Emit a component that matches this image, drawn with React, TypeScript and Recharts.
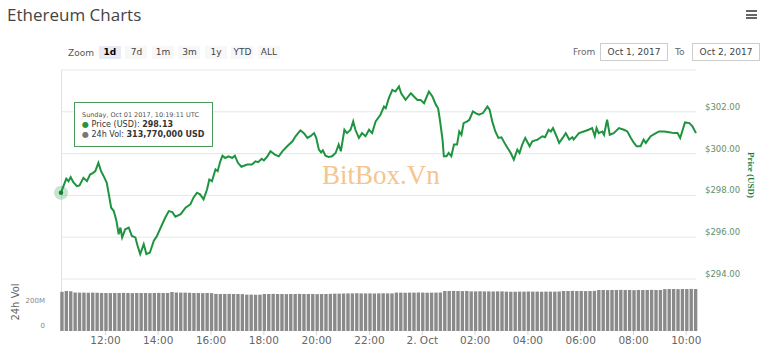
import React from 'react';
import { LineChart, Line, BarChart, Bar, XAxis, YAxis, CartesianGrid, Tooltip } from 'recharts';

// minutes since Oct 1 2017 00:00 UTC
const priceTimes = [
  619, 631, 636, 641, 647, 655, 661, 670, 678, 685, 692, 697, 704, 710, 716, 723, 727, 733, 739, 745,
  750, 754, 758, 765, 773, 780, 788, 793, 799, 807, 813, 821, 830, 837, 849, 856, 864, 872, 879, 891, 902,
  913, 920, 928, 935, 943, 951, 956, 962, 970, 975, 981, 986, 992, 1000, 1008, 1014, 1021, 1029, 1042,
  1053, 1061, 1067, 1075, 1080, 1088, 1095, 1105, 1114, 1122, 1133, 1145, 1152, 1163, 1171, 1179, 1186, 1194,
  1199, 1205, 1210, 1214, 1220, 1227, 1235, 1243, 1250, 1255, 1263, 1269, 1277, 1283, 1288, 1296, 1303, 1311,
  1319, 1326, 1334, 1345, 1353, 1357, 1364, 1372, 1379, 1387, 1392, 1402, 1414, 1421, 1429, 1436, 1444, 1455,
  1463, 1471, 1476, 1480, 1486, 1489,
  1495, 1500, 1506, 1512, 1519, 1524, 1529, 1534, 1542, 1547, 1555, 1561, 1569, 1578, 1588, 1593, 1599, 1606,
  1613, 1620, 1629, 1641, 1648, 1656, 1661, 1667, 1674, 1684, 1690, 1702, 1713, 1719, 1727, 1732, 1737, 1745,
  1751, 1759, 1766, 1774, 1781,
  1784, 1796, 1807, 1818, 1826, 1832, 1836, 1841, 1849, 1853, 1860, 1866, 1875, 1887, 1898, 1906, 1914, 1921,
  1927, 1936, 1943, 1948, 1959, 1971, 1978, 1990, 2001, 2012, 2020, 2026, 2037, 2047, 2054, 2062,
];

const prices = [
  298.13, 298.8, 298.68, 298.87, 298.63, 298.44, 298.48, 298.84, 298.68, 299.0, 299.08, 299.16, 299.56, 299.16,
  298.92, 298.6, 298.13, 297.41, 297.25, 296.78, 296.14, 296.46, 295.99, 296.38, 296.46, 296.06, 295.99, 295.59,
  295.19, 295.67, 295.19, 295.27, 295.83, 296.06, 296.62, 296.94, 297.25, 297.2, 296.98, 297.1, 297.41,
  297.57, 297.89, 298.13, 298.05, 297.81, 298.29, 298.76, 298.68, 299.24, 299.16, 299.63, 299.9, 299.79, 299.87,
  299.79, 299.9, 299.56, 299.37, 299.48, 299.48, 299.63, 299.59, 299.75, 299.67, 299.87, 300.11, 299.95, 299.87,
  300.11, 300.35, 300.59, 300.83, 301.11, 300.98, 300.75, 300.83, 300.98,
  300.75, 300.19, 300.06, 300.16, 299.9, 299.84, 299.87, 300.03, 300.43, 300.11, 301.14, 300.98, 301.14, 301.54,
  301.14, 300.75, 300.98, 300.83, 301.14, 300.98, 301.54, 301.86, 302.25, 302.17, 302.65, 303.05, 302.97, 303.21,
  302.89, 302.57, 302.89, 302.73, 302.57, 302.57, 302.41, 302.97, 302.73, 302.33, 302.17, 301.62, 300.67, 299.87,
  299.87, 300.03, 299.87, 300.43, 300.43, 301.06, 300.9, 301.46, 301.54, 301.62, 302.02, 301.94, 301.86, 301.94,
  302.25, 302.1, 301.54, 301.06, 300.75, 300.78, 300.43, 300.03, 299.71, 300.19, 300.03, 300.43, 300.75, 300.35,
  300.59, 300.67, 300.83, 300.78, 301.14, 301.06, 301.22, 300.83, 300.51, 300.75, 300.98, 300.67, 300.78,
  300.67, 300.98, 301.06, 301.14, 301.22, 300.83, 301.22, 300.98, 301.06, 300.9, 301.62, 300.9, 300.98, 301.22,
  301.14, 301.06, 300.75, 300.51, 300.35, 300.35, 300.67, 300.51, 300.83, 300.98, 301.06, 301.06, 301.02, 300.98,
  300.98, 300.75, 301.49, 301.46, 301.3, 300.98,
];

// 24h volume in millions USD, one bar every 10 minutes from 10:20
const volumeStart = 620;
const volumeStep = 10;
const volumes = [
  313.77, 320, 318,
  308, 307, 307, 306, 307, 306,
  304, 304, 303, 304, 304, 305, 304, 303, 304, 304, 304, 303, 304, 305, 304, 304,
  312,
  308, 307, 307, 306,
  304, 304, 303, 304, 303,
  297, 296, 296, 297, 296, 296, 295,
  291, 291, 290, 291,
  296, 296, 297, 296, 296, 295, 296, 296, 297, 296, 296, 296, 295, 296, 296, 297,
  299, 299, 300,
  301, 301, 302, 301, 301, 301, 300, 301, 302, 301, 301,
  307, 307, 306, 307, 307, 308, 307, 306, 307, 307, 308,
  320, 320, 321, 320, 319, 320,
  317, 317, 318, 317, 317, 316, 317, 317,
  315, 315, 314, 315, 315, 316, 315, 315, 314, 315, 315, 315, 316,
  320, 320, 321, 320, 320, 319, 320, 321,
  328, 328, 327, 328, 328, 329, 328, 328, 327, 328, 328, 328, 329, 328, 328,
  335, 336, 336, 335, 336, 336, 337, 336,
];

const priceTicks = [294, 296, 298, 300, 302, 304];
const priceLabelMax = 302;
const volumeTicks = [0, 200];
const timeTicks = [720, 840, 960, 1080, 1200, 1320, 1440, 1560, 1680, 1800, 1920, 2040];
const timeDomain = [619, 2062];
const zoomButtons = ['1d', '7d', '1m', '3m', '1y', 'YTD', 'ALL'];
const tooltipHeader = 'Sunday, Oct 01 2017, 10:19:11 UTC';
const fromDate = 'Oct 1, 2017';
const toDate = 'Oct 2, 2017';

const priceRows = priceTimes.map((t, i) => ({ t, price: prices[i] }));
const volumeRows = volumes.map((vol, i) => ({ t: volumeStart + i * volumeStep, vol }));

const GREEN = '#1f9440';
const FONT = '"DejaVu Sans", Verdana, sans-serif';

const fmtTime = (t: number) => {
  if (t === 1440) return '2. Oct';
  const h = Math.floor((t % 1440) / 60);
  return `${String(h).padStart(2, '0')}:00`;
};

const PriceTooltip = ({ active, payload }: any) => {
  if (!active || !payload || !payload.length) return null;
  const p = payload[0].payload;
  const vol = Math.round(volumes[0] * 1e6).toLocaleString('en-US');
  return (
    <div
      style={{
        border: '1px solid #4a9a5c',
        background: 'rgba(255,255,255,0.92)',
        padding: '7px 8px 6px 7px',
        fontFamily: FONT,
        color: '#333',
        whiteSpace: 'nowrap',
        lineHeight: '10px',
      }}
    >
      <div style={{ fontSize: 6.5, color: '#555' }}>{tooltipHeader}</div>
      <div style={{ fontSize: 8 }}>
        <span style={{ color: GREEN }}>●</span> Price (USD): <b>{p.price.toFixed(2)}</b>
      </div>
      <div style={{ fontSize: 8 }}>
        <span style={{ color: '#777' }}>●</span> 24h Vol: <b>{vol} USD</b>
      </div>
    </div>
  );
};

const ActiveDot = (props: any) => (
  <g>
    <circle cx={props.cx} cy={props.cy} r={7} fill={GREEN} fillOpacity={0.25} />
    <circle cx={props.cx} cy={props.cy} r={2.2} fill="#1b7a35" />
  </g>
);

export default function App() {
  return (
    <div
      style={{
        position: 'absolute',
        left: 0,
        top: 0,
        width: 768,
        height: 355,
        background: '#fff',
        overflow: 'hidden',
        fontFamily: FONT,
      }}
    >
      {/* header */}
      <div style={{ position: 'absolute', left: 7, top: 3, fontFamily: '"Open Sans", sans-serif', fontSize: 17, color: '#444' }}>
        Ethereum Charts
      </div>
      <div style={{ position: 'absolute', left: 746, top: 10, width: 11 }}>
        {[0, 1, 2].map((i) => (
          <div key={i} style={{ height: 2, background: '#666', marginBottom: 1.5 }} />
        ))}
      </div>

      <div style={{ position: 'absolute', left: 68, top: 46, height: 13, display: 'flex', alignItems: 'center', fontSize: 9, color: '#555' }}>
        <span style={{ marginRight: 5 }}>Zoom</span>
        {zoomButtons.map((b, i) => (
          <span
            key={b}
            style={{
              width: 22,
              height: 13,
              lineHeight: '13px',
              marginRight: 4.5,
              textAlign: 'center',
              whiteSpace: 'nowrap',
              background: i === 0 ? '#e6ebf5' : '#f7f7f7',
              fontWeight: i === 0 ? 'bold' : 'normal',
              color: i === 0 ? '#000' : '#444',
            }}
          >
            {b}
          </span>
        ))}
      </div>

      <div style={{ position: 'absolute', left: 573, top: 46, fontSize: 9, color: '#666', lineHeight: '13px' }}>From</div>
      <div style={{ position: 'absolute', left: 600, top: 43, width: 66, height: 16, border: '1px solid #ccc', fontSize: 9, color: '#444', lineHeight: '16px', textAlign: 'center' }}>
        {fromDate}
      </div>
      <div style={{ position: 'absolute', left: 675, top: 46, fontSize: 9, color: '#666', lineHeight: '13px' }}>To</div>
      <div style={{ position: 'absolute', left: 692, top: 43, width: 66, height: 16, border: '1px solid #ccc', fontSize: 9, color: '#444', lineHeight: '16px', textAlign: 'center' }}>
        {toDate}
      </div>

      {/* left border of the panes */}
      <div style={{ position: 'absolute', left: 61, top: 70, width: 1, height: 261, background: '#e0e0e0' }} />

      {/* watermark */}
      <div style={{ position: 'absolute', left: 322, top: 160, fontFamily: '"Liberation Serif", serif', fontSize: 27, color: '#f4c58e' }}>
        BitBox.Vn
      </div>

      {/* axis titles */}
      <div
        style={{
          position: 'absolute',
          left: 751,
          top: 175,
          transform: 'translate(-50%, -50%) rotate(90deg)',
          whiteSpace: 'nowrap',
          fontFamily: '"Liberation Serif", serif',
          fontWeight: 'bold',
          fontSize: 9,
          color: '#1d7a38',
        }}
      >
        Price (USD)
      </div>
      <div
        style={{
          position: 'absolute',
          left: 15,
          top: 302,
          transform: 'translate(-50%, -50%) rotate(-90deg)',
          whiteSpace: 'nowrap',
          fontSize: 10,
          color: '#666',
        }}
      >
        24h Vol
      </div>

      {/* volume pane */}
      <div style={{ position: 'absolute', left: 0, top: 279 }}>
        <BarChart width={768} height={76} data={volumeRows} margin={{ top: 2, right: 72, bottom: 4, left: 0 }}>
          <XAxis
            dataKey="t"
            type="number"
            domain={timeDomain}
            ticks={timeTicks}
            interval={0}
            tickFormatter={fmtTime}
            axisLine={false}
            tickSize={4}
            tickLine={{ stroke: '#ccd6eb' }}
            tickMargin={2}
            height={20}
            tick={{ fill: '#666', fontSize: 10.5, fontFamily: FONT }}
          />
          <YAxis
            width={61}
            domain={[0, 400]}
            ticks={volumeTicks}
            interval={0}
            axisLine={false}
            tickLine={false}
            tickMargin={10}
            tick={{ fill: '#888', fontSize: 7, dy: -5, fontFamily: FONT }}
            tickFormatter={(v: number) => (v ? `${v}M` : '0')}
          />
          <Bar dataKey="vol" fill="#8a8a8a" barSize={3.4} isAnimationActive={false} />
        </BarChart>
      </div>

      {/* price pane */}
      <div style={{ position: 'absolute', left: 0, top: 0 }}>
        <LineChart width={768} height={285} data={priceRows} margin={{ top: 70, right: 12, bottom: 6, left: 61 }}>
          <CartesianGrid vertical={false} stroke="#e6e6e6" />
          <XAxis dataKey="t" type="number" domain={timeDomain} hide />
          <YAxis
            orientation="right"
            width={60}
            domain={[294, 304]}
            ticks={priceTicks}
            interval={0}
            axisLine={false}
            tickLine={false}
            tickMargin={3}
            tick={{ fill: '#5f8f6c', fontSize: 8.5, dy: -5, fontFamily: FONT }}
            tickFormatter={(v: number) => (v > priceLabelMax ? '' : `$${v.toFixed(2)}`)}
          />
          <Tooltip
            active
            defaultIndex={0}
            cursor={false}
            isAnimationActive={false}
            position={{ x: 74, y: 102 }}
            content={<PriceTooltip />}
          />
          <Line
            dataKey="price"
            type="linear"
            stroke={GREEN}
            strokeWidth={2}
            dot={false}
            activeDot={<ActiveDot />}
            isAnimationActive={false}
          />
        </LineChart>
      </div>
    </div>
  );
}
